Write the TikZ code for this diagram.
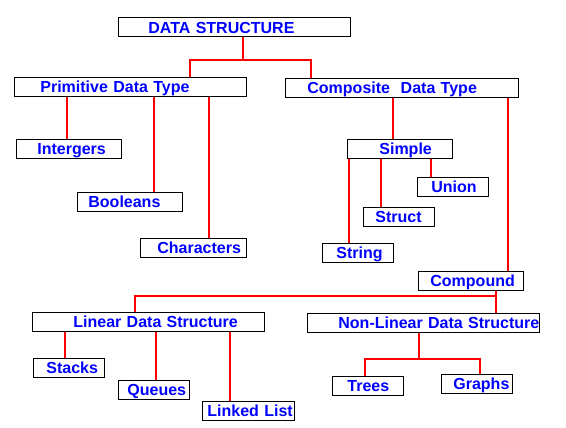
\documentclass[tikz,border=0pt]{standalone}
\usepackage{fontspec}
\setmainfont{Liberation Sans}
\setlength{\parindent}{0pt}

\tikzset{
  box/.style 2 args={draw=black, line width=0.8pt, text=blue,
    font=\fontsize{16}{18}\selectfont\bfseries, inner sep=0pt,
    minimum height=19pt, text height=12.4pt, text depth=2pt,
    text width=#1, align=left, anchor=north west,
    execute at begin node={\hspace*{#2}\hbox\bgroup},
    execute at end node={\egroup}},
  link/.style={draw=red, line width=2pt},
}

\begin{document}
\begin{tikzpicture}[x=1pt, y=-1pt]
	\useasboundingbox (0,0) rectangle (566,428);

	% Корень и первый уровень
	\node[box={232pt}{30pt}, text height=14pt, text depth=0.2pt] (ds) at (118,17) {DATA STRUCTURE};
	\node[box={232pt}{26pt}] (prim) at (14,77) {Primitive Data Type};
	\node[box={233pt}{22pt}] (comp) at (285,78) {Composite~~Data Type};

	% Простые типы
	\node[box={105pt}{21pt}] (intg) at (16,139) {Intergers};
	\node[box={105pt}{11pt}] (bool) at (77,192) {Booleans};
	\node[box={106pt}{17pt}] (chars) at (140,238) {Characters};

	% Составные типы
	\node[box={105pt}{32pt}] (simp) at (347,139) {Simple};
	\node[box={71pt}{14pt}] (union) at (417,177) {Union};
	\node[box={71pt}{12pt}] (struct) at (363,207) {Struct};
	\node[box={71pt}{14pt}] (string) at (322,243) {String};
	\node[box={105pt}{12pt}] (cmpd) at (418,271) {Compound};

	% Линейные и нелинейные
	\node[box={232pt}{41pt}] (lin) at (32,312) {Linear Data Structure};
	\node[box={232pt}{31pt}] (nonlin) at (307,313) {Non-Linear Data Structure};
	\node[box={71pt}{13pt}] (stacks) at (33,358) {Stacks};
	\node[box={71pt}{9pt}] (queues) at (118,380) {Queues};
	\node[box={92pt}{5pt}] (llist) at (202,401) {Linked List};
	\node[box={71pt}{15pt}] (trees) at (332,376) {Trees};
	\node[box={71pt}{12pt}] (graphs) at (441,374) {Graphs};

	% Узлы развилок
	\coordinate (dsj) at (243,60);
	\coordinate (cj) at (496,296);
	\coordinate (nj) at (419,359);

	% Линии
	\draw[link] (ds.south -| dsj) -- (dsj);
	\draw[link] (prim.north -| 190,0) |- (dsj) -| (comp.north -| 311,0);

	\draw[link] (prim.south -| 67,0) -- (intg.north -| 67,0);
	\draw[link] (prim.south -| 154,0) -- (bool.north -| 154,0);
	\draw[link] (prim.south -| 209,0) -- (chars.north -| 209,0);

	\draw[link] (comp.south -| 393,0) -- (simp.north -| 393,0);
	\draw[link] (comp.south -| 508,0) -- (cmpd.north -| 508,0);

	\draw[link] (simp.south -| 349,0) -- (string.north -| 349,0);
	\draw[link] (simp.south -| 381,0) -- (struct.north -| 381,0);
	\draw[link] (simp.south -| 431,0) -- (union.north -| 431,0);

	\draw[link] (cmpd.south -| cj) -- (nonlin.north -| cj);
	\draw[link] (lin.north -| 135,0) |- (cj);

	\draw[link] (lin.south -| 65,0) -- (stacks.north -| 65,0);
	\draw[link] (lin.south -| 156,0) -- (queues.north -| 156,0);
	\draw[link] (lin.south -| 230,0) -- (llist.north -| 230,0);

	\draw[link] (nonlin.south -| nj) -- (nj);
	\draw[link] (trees.north -| 365,0) |- (nj) -| (graphs.north -| 480,0);
\end{tikzpicture}
\end{document}
